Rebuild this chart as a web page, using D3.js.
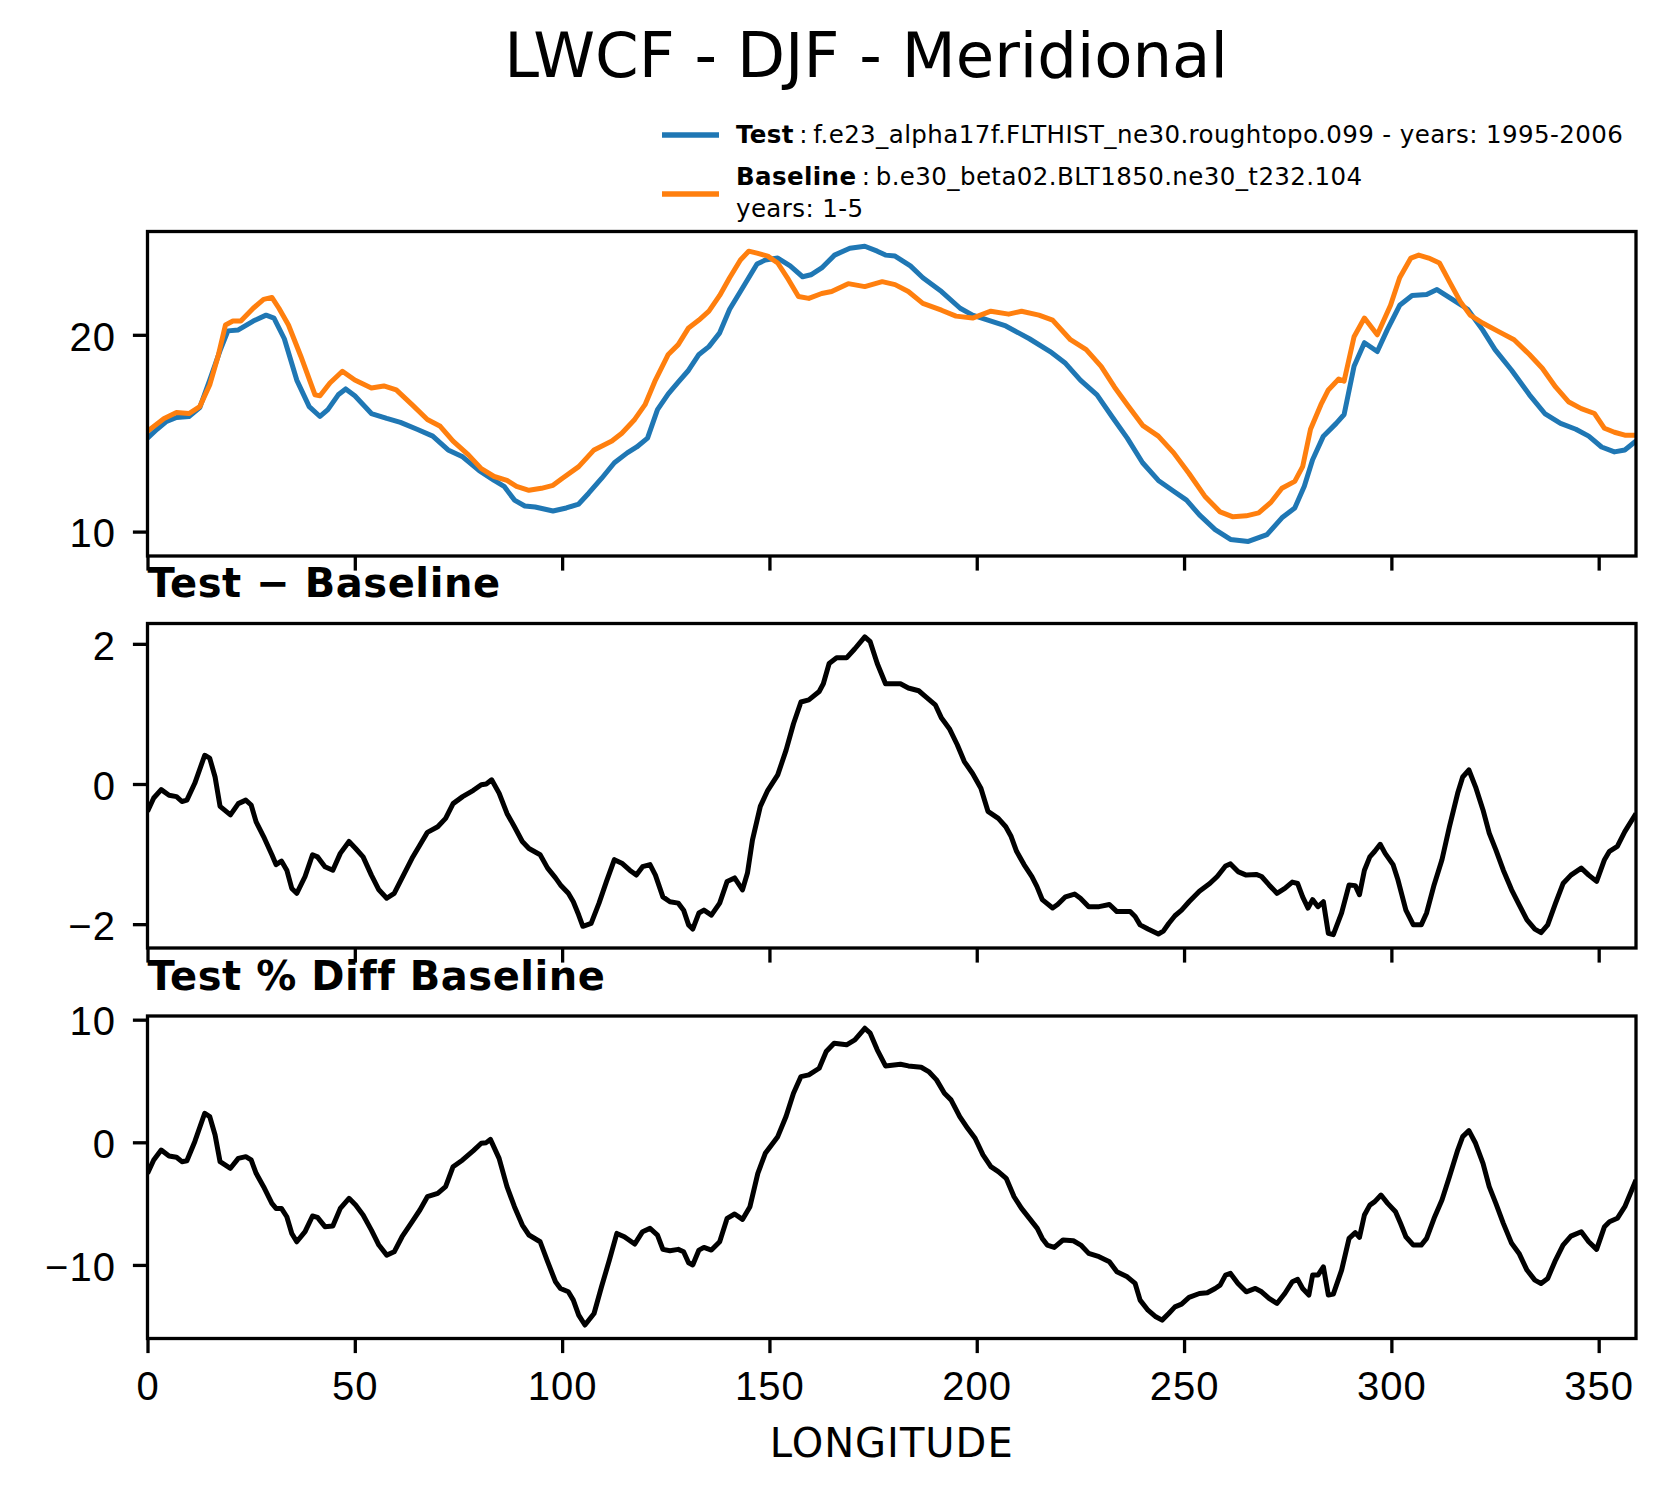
<!DOCTYPE html>
<html>
<head>
<meta charset="utf-8">
<script src="https://cdn.jsdelivr.net/npm/d3@7"></script>
<style>
body { margin: 0; background: #fff; }
svg { display: block; font-family: "DejaVu Sans", sans-serif; }
.ticklab { font-size: 40px; fill: #000; letter-spacing: 1px; }
.subtitle { font-size: 40px; font-weight: bold; letter-spacing: 0.55px; }
.legtext { font-size: 24.5px; letter-spacing: 0.4px; }
</style>
</head>
<body>
<svg width="1668" height="1496"></svg>
<script>

// LWCF meridional means [longitude, W/m2]
var testLwcf = [[0,14.75],[2.3,15.2],[4.6,15.6],[7,15.8],[10,15.85],[12.6,16.3],[15,17.7],[17.5,19.2],[19.4,20.2],[21.9,20.25],[25.5,20.7],[28.6,21.0],[30.5,20.85],[33,19.8],[36,17.7],[39,16.35],[41.6,15.85],[43.5,16.2],[46,16.95],[47.8,17.25],[50,16.9],[54,16.0],[57.7,15.75],[61,15.55],[65,15.2],[68.8,14.85],[72.5,14.15],[76,13.8],[80,13.1],[83.6,12.6],[86,12.3],[88.5,11.6],[91,11.3],[93.5,11.25],[97.8,11.05],[101,11.2],[104,11.4],[106.4,11.95],[109.5,12.7],[112.6,13.5],[115.7,14.0],[118,14.3],[120.6,14.75],[123,16.2],[125.6,17.0],[128,17.6],[130.5,18.2],[133,19.0],[135.4,19.4],[138,20.1],[140.4,21.3],[143,22.2],[145,22.9],[147,23.6],[149,23.8],[152,23.9],[155,23.5],[158,22.95],[160,23.05],[162.6,23.4],[165.7,24.05],[169.4,24.4],[173,24.5],[176,24.25],[178,24.05],[180.3,24.0],[184,23.5],[187,22.9],[191.5,22.2],[196,21.35],[199,21.0],[202.7,20.75],[207,20.45],[212.7,19.8],[217.7,19.15],[221.4,18.55],[225,17.7],[229,16.95],[232.6,15.85],[236.3,14.75],[240,13.5],[243.8,12.6],[247.5,12.05],[250.6,11.6],[253.7,10.85],[257.5,10.1],[261.2,9.6],[265.5,9.5],[270,9.85],[273.6,10.7],[276.7,11.2],[279,12.3],[281,13.65],[283.6,14.85],[286.7,15.5],[288.6,15.95],[291,18.4],[293.5,19.6],[296.6,19.15],[299,20.25],[302,21.5],[305,22.0],[308.5,22.05],[311,22.3],[314.7,21.8],[318.4,21.3],[322,20.25],[325,19.25],[329,18.2],[333.3,16.95],[337,16.0],[340.8,15.5],[344.5,15.2],[347.6,14.85],[350.7,14.3],[353.8,14.05],[356.3,14.15],[359,14.6]];

var baseLwcf = [[0,15.1],[4,15.75],[7,16.05],[10,16.0],[12.6,16.35],[15,17.45],[17,18.9],[18.8,20.5],[20.6,20.7],[22.5,20.7],[25.5,21.35],[28,21.8],[30,21.9],[31.7,21.35],[34,20.5],[37,18.9],[40.4,16.95],[41.6,16.9],[44,17.55],[47,18.15],[50,17.7],[54,17.3],[57,17.4],[60,17.2],[63.8,16.45],[67.5,15.7],[70.6,15.35],[73.7,14.6],[77.4,13.9],[80.5,13.2],[83.6,12.8],[86.7,12.6],[89,12.3],[92,12.1],[95,12.2],[97.8,12.35],[100,12.7],[104,13.3],[107.7,14.15],[112,14.6],[114.4,15.0],[117.5,15.7],[120,16.45],[122.5,17.7],[125.6,19.0],[128,19.5],[130.5,20.35],[133,20.75],[135.4,21.2],[138,22.0],[140.4,22.9],[143,23.8],[145,24.25],[147,24.15],[149.6,24.0],[152,23.65],[154.6,22.8],[157,21.95],[159.5,21.85],[162.6,22.1],[165,22.2],[169,22.6],[173,22.45],[177.2,22.7],[180.3,22.55],[183.5,22.2],[187,21.6],[191.5,21.25],[195,20.95],[199,20.85],[203.4,21.2],[207.7,21.05],[210.8,21.2],[215,21.0],[218.3,20.75],[222.6,19.75],[226.4,19.25],[230,18.4],[233.2,17.35],[236.3,16.45],[240,15.4],[243.8,14.85],[247.5,14.0],[251.2,12.95],[255,11.8],[258.7,11.0],[261.8,10.75],[265,10.8],[268,10.95],[271,11.5],[273.6,12.2],[276.7,12.55],[278.6,13.3],[280.5,15.2],[283,16.45],[284.8,17.2],[287.3,17.75],[288.6,17.65],[291,19.9],[293.5,20.85],[296.6,20.0],[299.8,21.5],[302,22.9],[304.7,23.9],[306.6,24.05],[309,23.9],[311.6,23.65],[314,22.7],[316.6,21.7],[319,21.0],[322,20.6],[326,20.15],[329.6,19.75],[333.3,19.0],[336.4,18.3],[339.6,17.35],[342.7,16.6],[345.8,16.25],[349,16.0],[351.4,15.25],[353.8,15.05],[356.3,14.9],[359,14.9]];

// Test - Baseline
var diffLwcf = [[0,-0.39],[1.5,-0.2],[3.3,-0.08],[5.2,-0.16],[7,-0.18],[8.3,-0.25],[9.5,-0.23],[11.4,0.01],[13.8,0.41],[15,0.37],[16.3,0.1],[17.5,-0.32],[20,-0.44],[21.9,-0.28],[23.7,-0.23],[25,-0.3],[26.2,-0.54],[28,-0.75],[30,-1.01],[31,-1.15],[32.3,-1.1],[33.6,-1.23],[34.8,-1.49],[36,-1.56],[38,-1.32],[39.8,-1.01],[41,-1.04],[42.8,-1.18],[44.7,-1.23],[46.5,-0.99],[48.6,-0.82],[50.2,-0.92],[52,-1.04],[54,-1.3],[55.8,-1.51],[57.7,-1.63],[59.5,-1.56],[61.4,-1.34],[63.8,-1.06],[65.7,-0.87],[67.5,-0.69],[70,-0.61],[71.9,-0.49],[73.7,-0.28],[76,-0.18],[78.6,-0.09],[80.5,-0.01],[81.7,0.0],[83,0.06],[84.8,-0.13],[86.7,-0.42],[88.5,-0.61],[90.4,-0.82],[92,-0.92],[94.7,-1.01],[96.5,-1.2],[98.4,-1.34],[99.6,-1.44],[101.5,-1.56],[102.7,-1.68],[104,-1.87],[105,-2.03],[107,-1.99],[108.9,-1.7],[110.7,-1.39],[112.6,-1.08],[114.4,-1.13],[116.3,-1.23],[117.9,-1.3],[119.4,-1.18],[121.2,-1.15],[122.5,-1.3],[124.3,-1.61],[126,-1.68],[128,-1.7],[129.3,-1.8],[130.5,-2.01],[131.5,-2.07],[133,-1.84],[134.2,-1.8],[136,-1.87],[138,-1.7],[139.8,-1.39],[141.6,-1.34],[143.5,-1.51],[144.7,-1.27],[145.9,-0.8],[147.8,-0.32],[149.6,-0.09],[152,0.13],[154,0.48],[155.8,0.86],[157.6,1.17],[159.5,1.2],[162,1.32],[163,1.43],[164.4,1.72],[166.2,1.8],[168.6,1.8],[170.6,1.93],[173,2.1],[174.3,2.03],[176,1.72],[178,1.43],[181.6,1.43],[183.5,1.37],[186,1.33],[187.8,1.24],[190,1.13],[191.5,0.94],[193.4,0.79],[195.3,0.56],[197,0.32],[199,0.15],[201,-0.06],[202.7,-0.39],[205.2,-0.49],[207,-0.61],[208.3,-0.75],[209.6,-0.96],[211.4,-1.15],[213.3,-1.32],[214.5,-1.46],[215.8,-1.65],[218.3,-1.77],[219.5,-1.72],[221.4,-1.61],[223.6,-1.57],[225,-1.63],[227,-1.75],[229.5,-1.75],[232,-1.72],[233.8,-1.82],[237,-1.82],[238.2,-1.89],[239.4,-2.01],[241.3,-2.07],[243.8,-2.14],[245,-2.1],[246.3,-1.99],[247.8,-1.88],[249.4,-1.8],[251.2,-1.68],[253.7,-1.53],[256.2,-1.42],[258,-1.32],[260,-1.17],[261.2,-1.14],[263,-1.25],[265,-1.3],[267.4,-1.29],[268.7,-1.32],[270.5,-1.44],[272.4,-1.56],[274.3,-1.49],[276.1,-1.4],[277.4,-1.42],[278.6,-1.61],[279.9,-1.77],[281,-1.65],[282.3,-1.75],[283.6,-1.68],[284.8,-2.13],[286,-2.15],[288,-1.84],[289.8,-1.44],[291.3,-1.45],[292.3,-1.58],[293.5,-1.23],[294.8,-1.04],[296,-0.96],[297.3,-0.86],[298.5,-0.99],[300.4,-1.15],[301.6,-1.37],[303.5,-1.8],[305.3,-2.01],[307.2,-2.01],[308.5,-1.84],[310.3,-1.44],[312.2,-1.08],[314,-0.61],[316,-0.13],[317.2,0.1],[318.7,0.2],[320.3,-0.04],[322.1,-0.37],[323.6,-0.7],[325.2,-0.94],[327,-1.23],[329,-1.51],[330.8,-1.72],[332.7,-1.94],[334.6,-2.07],[336.1,-2.12],[337.7,-2.01],[339.6,-1.7],[341.4,-1.42],[343.3,-1.3],[345.8,-1.2],[347.6,-1.3],[349.5,-1.39],[351.4,-1.08],[352.6,-0.96],[354.5,-0.89],[356.3,-0.68],[359,-0.42]];

// Test % Diff Baseline
var pctLwcf = [[0,-2.53],[1.5,-1.44],[3.3,-0.63],[5.2,-1.12],[7,-1.22],[8.3,-1.58],[9.5,-1.5],[11.4,0.05],[13.8,2.37],[15,2.1],[16.3,0.6],[17.5,-1.58],[20,-2.12],[21.9,-1.31],[23.7,-1.17],[25,-1.44],[26.2,-2.53],[28,-3.62],[30,-4.98],[31,-5.39],[32.3,-5.39],[33.6,-6.07],[34.8,-7.43],[36,-8.11],[38,-7.29],[39.8,-6.01],[41,-6.12],[42.8,-6.88],[44.7,-6.83],[46.5,-5.39],[48.6,-4.57],[50.2,-5.12],[52,-5.93],[54,-7.16],[55.8,-8.38],[57.7,-9.2],[59.5,-8.93],[61.4,-7.7],[63.8,-6.48],[65.7,-5.52],[67.5,-4.44],[70,-4.16],[71.9,-3.62],[73.7,-1.99],[76,-1.44],[78.6,-0.68],[80.5,-0.08],[81.7,-0.03],[82.7,0.24],[84.8,-1.31],[86.7,-3.62],[88.5,-5.25],[90.4,-6.75],[92,-7.56],[94.7,-8.11],[96.5,-9.74],[98.4,-11.37],[99.6,-11.92],[101.5,-12.19],[102.7,-12.87],[104,-14.1],[105.5,-14.9],[107.7,-13.96],[109.5,-11.78],[111.4,-9.6],[113.2,-7.43],[115,-7.7],[117.5,-8.3],[119.4,-7.29],[121.2,-7.02],[123,-7.56],[124.3,-8.73],[126,-8.84],[128,-8.73],[129.3,-8.93],[130.5,-9.82],[131.5,-10.0],[133,-8.79],[134.2,-8.57],[136,-8.79],[138,-8.11],[139.8,-6.2],[141.6,-5.85],[143.5,-6.29],[145.3,-5.25],[147.2,-2.53],[149,-0.9],[152,0.46],[154,2.1],[155.8,4.0],[157.6,5.36],[159.5,5.5],[162,6.04],[163.7,7.4],[165.6,8.08],[168.6,7.95],[170.6,8.35],[173,9.3],[174.3,8.9],[176,7.54],[178,6.23],[181.6,6.37],[183.5,6.23],[186.6,6.12],[188.4,5.77],[190.3,5.09],[192.2,4.0],[193.8,3.46],[195.9,2.1],[197.8,1.14],[199.6,0.33],[201.5,-1.03],[203.4,-1.99],[205.2,-2.39],[207.1,-2.94],[209,-4.44],[210.8,-5.39],[212.7,-6.2],[214.6,-7.02],[215.8,-7.84],[217,-8.38],[218.7,-8.57],[220.8,-7.97],[223.3,-8.03],[225.1,-8.38],[227,-9.06],[229.5,-9.33],[232,-9.74],[233.8,-10.56],[236.3,-10.97],[238.2,-11.51],[239.4,-12.87],[241.3,-13.69],[243.2,-14.23],[244.7,-14.5],[246.3,-13.96],[247.8,-13.42],[249.4,-13.2],[251.2,-12.65],[253.7,-12.33],[255.6,-12.27],[257.5,-11.92],[258.7,-11.65],[260,-10.83],[261.2,-10.69],[263,-11.51],[265,-12.19],[267.2,-11.92],[268.7,-12.19],[270.5,-12.73],[272.4,-13.14],[274.3,-12.33],[276.1,-11.37],[277.4,-11.18],[278.6,-11.92],[280.1,-12.46],[281,-10.83],[282.3,-10.83],[283.6,-10.15],[284.8,-12.46],[286,-12.38],[288,-10.42],[289.8,-7.84],[291.3,-7.37],[292.3,-7.76],[293.5,-5.93],[294.8,-5.12],[296,-4.84],[297.5,-4.3],[299.1,-4.98],[301,-5.66],[302.2,-6.61],[303.5,-7.7],[305.3,-8.38],[307.2,-8.38],[308.5,-7.84],[310.3,-6.2],[312.2,-4.71],[314,-2.8],[316,-0.63],[317.2,0.46],[318.7,0.95],[320.3,-0.08],[322.1,-1.71],[323.6,-3.62],[325.2,-4.98],[327,-6.61],[329,-8.24],[330.8,-9.06],[332.7,-10.42],[334.6,-11.24],[336.1,-11.51],[337.7,-11.1],[339.6,-9.6],[341.4,-8.38],[343.3,-7.65],[345.8,-7.29],[347.6,-8.11],[349.5,-8.73],[351.4,-6.88],[352.6,-6.48],[354.5,-6.2],[356.3,-5.25],[359,-3.07]];

var lonTicks = [0, 50, 100, 150, 200, 250, 300, 350];
var meanTicks = [10, 20];
var diffTicks = [-2, 0, 2];
var pctTicks = [-10, 0, 10];

var lonRange = [0, 359];
var meanLim = [8.76, 25.25];
var diffLim = [-2.34, 2.29];
var pctLim = [-16.0, 10.3];

var titleText = "LWCF - DJF - Meridional";
var testName = "f.e23_alpha17f.FLTHIST_ne30.roughtopo.099 - years: 1995-2006";
var baseName = "b.e30_beta02.BLT1850.ne30_t232.104";
var baseYears = "years: 1-5";

var svg = d3.select("svg");
var left = 147.5, right = 1636;
var lw = 3.3, ticklen = 14.6;

var x = d3.scaleLinear().domain(lonRange).range([left, right]);

var drawPanel = function(id, top, bottom, ylim, yticks, series, showXLabels)
{
    var y = d3.scaleLinear().domain(ylim).range([bottom, top]);
    var g = svg.append("g").attr("id", id);

    g.append("clipPath").attr("id", "clip_" + id)
        .append("rect")
        .attr("x", left).attr("y", top)
        .attr("width", right - left).attr("height", bottom - top);

    var line = d3.line()
        .x(function(d) { return x(d[0]); })
        .y(function(d) { return y(d[1]); });

    series.forEach(function(s) {
        g.append("path")
            .datum(s.data)
            .attr("clip-path", "url(#clip_" + id + ")")
            .attr("fill", "none")
            .attr("stroke", s.color)
            .attr("stroke-width", 5)
            .attr("stroke-linejoin", "round")
            .attr("d", line);
    });

    var yAxis = g.append("g")
        .attr("transform", "translate(" + left + ",0)")
        .call(d3.axisLeft(y).tickValues(yticks).tickFormat(d3.format("d"))
            .tickSize(ticklen).tickSizeOuter(0).tickPadding(17));
    yAxis.select(".domain").remove();
    yAxis.selectAll(".tick line").attr("stroke-width", lw);
    yAxis.selectAll(".tick text").attr("class", "ticklab")
        .attr("font-family", null).attr("font-size", null).attr("dy", "0.38em");

    var xAxis = g.append("g")
        .attr("transform", "translate(0," + bottom + ")")
        .call(d3.axisBottom(x).tickValues(lonTicks).tickSize(ticklen).tickSizeOuter(0));
    xAxis.select(".domain").remove();
    xAxis.selectAll(".tick line").attr("stroke-width", lw);
    if(showXLabels)
        xAxis.selectAll(".tick text").attr("class", "ticklab")
            .attr("font-family", null).attr("font-size", null)
            .attr("y", 61).attr("dy", 0);
    else
        xAxis.selectAll(".tick text").remove();

    // frame
    g.append("rect")
        .attr("x", left).attr("y", top)
        .attr("width", right - left).attr("height", bottom - top)
        .attr("fill", "none")
        .attr("stroke", "#000")
        .attr("stroke-width", lw);
};

drawPanel("mean", 231.5, 556, meanLim, meanTicks,
    [{ data: testLwcf, color: "#1f77b4" }, { data: baseLwcf, color: "#ff7f0e" }], false);
drawPanel("diff", 623.5, 948, diffLim, diffTicks, [{ data: diffLwcf, color: "#000" }], false);
drawPanel("pct", 1016, 1338.5, pctLim, pctTicks, [{ data: pctLwcf, color: "#000" }], true);

// titles
svg.append("text")
    .attr("x", 866).attr("y", 77)
    .attr("text-anchor", "middle")
    .style("font-size", "62.5px")
    .text(titleText);

svg.append("text").attr("class", "subtitle")
    .attr("x", left).attr("y", 597)
    .text("Test \u2212 Baseline");
svg.append("text").attr("class", "subtitle")
    .attr("x", left).attr("y", 990)
    .text("Test % Diff Baseline");

svg.append("text")
    .attr("x", (left + right) / 2).attr("y", 1457)
    .attr("text-anchor", "middle")
    .style("font-size", "40px")
    .style("letter-spacing", "1px")
    .text("LONGITUDE");

// legend
var leg = svg.append("g");
leg.append("line").attr("x1", 662).attr("x2", 719).attr("y1", 135).attr("y2", 135)
    .attr("stroke", "#1f77b4").attr("stroke-width", 5.5);
leg.append("line").attr("x1", 662).attr("x2", 719).attr("y1", 194).attr("y2", 194)
    .attr("stroke", "#ff7f0e").attr("stroke-width", 5.5);

var t1 = leg.append("text").attr("class", "legtext").attr("x", 736).attr("y", 143);
t1.append("tspan").style("font-weight", "bold").text("Test");
t1.append("tspan").text("\u2009:\u2009" + testName);

var t2 = leg.append("text").attr("class", "legtext").attr("x", 736).attr("y", 185);
t2.append("tspan").style("font-weight", "bold").text("Baseline");
t2.append("tspan").text("\u2009:\u2009" + baseName);

leg.append("text").attr("class", "legtext").attr("x", 736).attr("y", 217).text(baseYears);

</script>
</body>
</html>
